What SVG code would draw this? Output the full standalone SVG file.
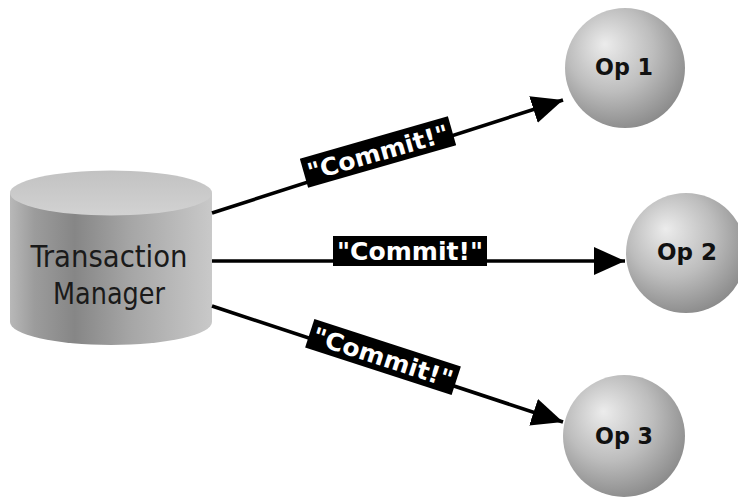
<svg xmlns="http://www.w3.org/2000/svg" width="738" height="499" viewBox="0 0 738 499">
  <style>
    .conn { stroke: #000; stroke-width: 3.6; fill: none; marker-end: url(#head); }
    .tag rect { fill: #000; }
    .tag text { fill: #fff; font-family: "DejaVu Sans", Verdana, sans-serif; font-weight: bold; font-size: 24px; text-anchor: middle; }
    .op text { fill: #111; font-family: "DejaVu Sans", Verdana, sans-serif; font-weight: bold; font-size: 23px; text-anchor: middle; }
    .mgr text { fill: #1a1a1a; font-family: "DejaVu Sans Condensed", "DejaVu Sans", sans-serif; font-size: 31px; text-anchor: middle; }
  </style>
  <defs>
    <marker id="head" markerUnits="userSpaceOnUse" markerWidth="32" markerHeight="28" viewBox="0 0 32 28" refX="31" refY="14" orient="auto">
      <path d="M0,0 L31,14 L0,28 Z" fill="#000"/>
    </marker>
    <radialGradient id="sphere" cx="0.42" cy="0.38" r="0.65" fx="0.33" fy="0.3">
      <stop offset="0" stop-color="#ececec"/>
      <stop offset="0.55" stop-color="#bdbdbd"/>
      <stop offset="1" stop-color="#8a8a8a"/>
    </radialGradient>
    <linearGradient id="body" x1="0" y1="0" x2="1" y2="0">
      <stop offset="0" stop-color="#b8b8b8"/>
      <stop offset="0.12" stop-color="#9c9c9c"/>
      <stop offset="0.32" stop-color="#868686"/>
      <stop offset="0.6" stop-color="#a6a6a6"/>
      <stop offset="1" stop-color="#c9c9c9"/>
    </linearGradient>
    <linearGradient id="lid" x1="0" y1="0" x2="0" y2="1">
      <stop offset="0" stop-color="#c2c2c2"/>
      <stop offset="1" stop-color="#d2d2d2"/>
    </linearGradient>
  </defs>

  <rect width="738" height="499" fill="#fff"/>

  <!-- Transaction manager drum -->
  <g id="manager" class="mgr">
    <path d="M10,193 L10,322 A101,23 0 0 0 212,322 L212,193 Z" fill="url(#body)"/>
    <ellipse cx="111" cy="193" rx="101" ry="22.5" fill="url(#lid)"/>
    <text x="109" y="267" textLength="157" lengthAdjust="spacingAndGlyphs">Transaction</text>
    <text x="109" y="304" textLength="112" lengthAdjust="spacingAndGlyphs">Manager</text>
  </g>

  <!-- Operations -->
  <g id="op1" class="op">
    <circle cx="625" cy="68" r="60" fill="url(#sphere)"/>
    <text x="624" y="75" textLength="58" lengthAdjust="spacingAndGlyphs">Op 1</text>
  </g>
  <g id="op2" class="op">
    <circle cx="686" cy="253" r="60" fill="url(#sphere)"/>
    <text x="687" y="260" textLength="60" lengthAdjust="spacingAndGlyphs">Op 2</text>
  </g>
  <g id="op3" class="op">
    <circle cx="624" cy="436" r="61" fill="url(#sphere)"/>
    <text x="624" y="444" textLength="58" lengthAdjust="spacingAndGlyphs">Op 3</text>
  </g>

  <!-- Commit messages -->
  <g id="connectors">
    <line class="conn" x1="212" y1="213" x2="563" y2="100"/>
    <line class="conn" x1="212" y1="261" x2="625" y2="261"/>
    <line class="conn" x1="212" y1="306" x2="563" y2="422"/>
  </g>

  <g id="label1" class="tag" transform="translate(378,152) rotate(-16)">
    <rect x="-77" y="-15" width="154" height="30"/>
    <text x="0" y="9" textLength="146" lengthAdjust="spacingAndGlyphs">"Commit!"</text>
  </g>
  <g id="label2" class="tag" transform="translate(410,251)">
    <rect x="-77" y="-15" width="154" height="30"/>
    <text x="0" y="9" textLength="146" lengthAdjust="spacingAndGlyphs">"Commit!"</text>
  </g>
  <g id="label3" class="tag" transform="translate(383,357) rotate(18)">
    <rect x="-77" y="-15" width="154" height="30"/>
    <text x="0" y="9" textLength="146" lengthAdjust="spacingAndGlyphs">"Commit!"</text>
  </g>
</svg>
